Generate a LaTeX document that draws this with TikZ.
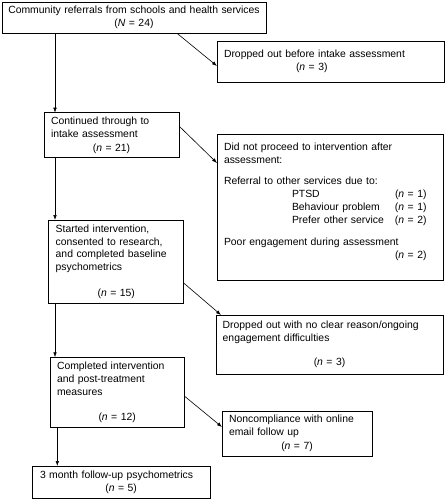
\documentclass[tikz,border=0pt]{standalone}
\usepackage{fontspec}
\setmainfont{Liberation Sans}
\usetikzlibrary{arrows.meta}
\newcommand{\ncount}[1]{(\textit{n} = #1)}
\newcommand{\midline}[1]{\makebox[\linewidth]{#1}}
\newcommand{\sub}[2]{\hspace*{68pt}\makebox[103pt][l]{#1}\ncount{#2}}
\begin{document}
\begin{tikzpicture}[x=1pt,y=-1pt,
    box/.style={draw,line width=0.9pt,anchor=north west,inner xsep=7pt,inner ysep=0pt,
        outer sep=0pt,align=left,font=\fontsize{10.4}{12.8}\selectfont},
    arr/.style={-{Latex[length=5pt,width=3.6pt]},line width=0.6pt}]
    \useasboundingbox (0,0) rectangle (445,500);

    \node[box,align=center,inner xsep=2pt,minimum width=264pt,text width=260pt,minimum height=31.3pt] (referral) at (2,2)
        {Community referrals from schools and health services\\ (\textit{N} = 24)};
    \node[box,minimum width=227pt,text width=213pt,minimum height=41pt] (dropintake) at (217,41)
        {Dropped out before intake assessment\\ \hspace*{72pt}\ncount{3}};
    \node[box,minimum width=135pt,text width=121pt,minimum height=45pt] (intake) at (44,112.7)
        {Continued through to\\ intake assessment\\[1pt] \midline{\ncount{21}}};
    \node[box,minimum width=226pt,text width=212pt,minimum height=146pt] (noproceed) at (217,134)
        {Did not proceed to intervention after\\
         assessment:\\[8.5pt]
         Referral to other services due to:\\
         \sub{PTSD}{1}\\
         \sub{Behaviour problem}{1}\\
         \sub{Prefer other service}{2}\\[9.5pt]
         Poor engagement during assessment\\
         \hspace*{171pt}\ncount{2}\\
         \mbox{}};
    \node[box,minimum width=135pt,text width=121pt,minimum height=83.3pt] (started) at (48.7,220)
        {Started intervention,\\ consented to research,\\ and completed baseline\\ psychometrics\\[12.8pt]
         \midline{\ncount{15}}};
    \node[box,inner xsep=6.7pt,minimum width=227pt,text width=213.6pt,minimum height=59pt] (dropengage) at (216,315)
        {Dropped out with no clear reason/ongoing\\ engagement difficulties\\[11pt] \midline{\ncount{3}}};
    \node[box,minimum width=134.3pt,text width=120.3pt,minimum height=70.4pt] (completed) at (50,357.3)
        {Completed intervention\\ and post-treatment\\ measures\\[12pt] \midline{\ncount{12}}};
    \node[box,minimum width=150pt,text width=136pt,minimum height=45pt] (noncomply) at (222,411)
        {Noncompliance with online\\ email follow up\\[1pt] \midline{\ncount{7}}};
    \node[box,inner xsep=7.7pt,minimum width=177.7pt,text width=162.3pt,minimum height=32.3pt] (followup) at (32.3,466)
        {3 month follow-up psychometrics\\ \midline{\ncount{5}}};

    \draw[arr] ([xshift=53pt]referral.south west) -- ([xshift=53pt]referral.south west |- intake.north);
    \draw[arr] ([xshift=175pt]referral.south west) -- ([yshift=-25pt]dropintake.north west);
    \draw[arr] ([xshift=11pt]intake.south west) -- ([xshift=11pt]intake.south west |- started.north);
    \draw[arr] ([yshift=-13.3pt]intake.north east) -- ([yshift=-29pt]noproceed.north west);
    \draw[arr] ([xshift=6.3pt]started.south west) -- ([xshift=6.3pt]started.south west |- completed.north);
    \draw[arr] ([yshift=20.3pt]started.south east) -- ([xshift=5pt]dropengage.north west);
    \draw[arr] ([xshift=7.3pt]completed.south west) -- ([xshift=7.3pt]completed.south west |- followup.north);
    \draw[arr] ([yshift=31.7pt]completed.south east) -- ([yshift=-16pt]noncomply.north west);
\end{tikzpicture}
\end{document}
